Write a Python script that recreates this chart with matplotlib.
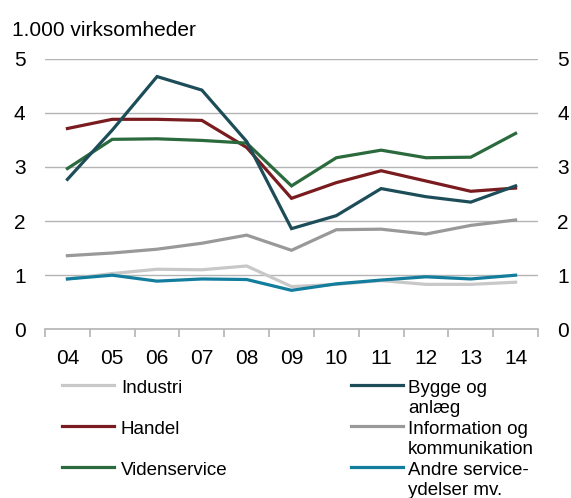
import matplotlib
matplotlib.use("Agg")
import matplotlib.pyplot as plt
from matplotlib.lines import Line2D
import numpy as np

plt.rcParams['font.family'] = ['Liberation Sans', 'DejaVu Sans']

years = ["04", "05", "06", "07", "08", "09", "10", "11", "12", "13", "14"]
industri = [0.93, 1.03, 1.11, 1.10, 1.17, 0.79, 0.83, 0.90, 0.83, 0.83, 0.87]
bygge = [2.77, 3.68, 4.67, 4.42, 3.47, 1.86, 2.10, 2.60, 2.45, 2.35, 2.65]
handel = [3.71, 3.88, 3.88, 3.86, 3.36, 2.42, 2.71, 2.93, 2.74, 2.55, 2.61]
info = [1.36, 1.41, 1.48, 1.59, 1.74, 1.46, 1.84, 1.85, 1.76, 1.92, 2.02]
viden = [2.97, 3.51, 3.52, 3.49, 3.44, 2.65, 3.17, 3.31, 3.17, 3.18, 3.62]
andre = [0.93, 1.00, 0.89, 0.93, 0.92, 0.72, 0.84, 0.91, 0.97, 0.93, 1.00]

labels = ["Industri", "Bygge og\nanlæg", "Handel", "Information og\nkommunikation",
          "Videnservice", "Andre service-\nydelser mv."]
series = [industri, bygge, handel, info, viden, andre]
colors = ["#c8c8c8", "#1d4d58", "#7a1c1f", "#999999", "#2b6a3c", "#137d9e"]
yticks = [0, 1, 2, 3, 4, 5]

W, H = 571, 498
fig = plt.figure(figsize=(W / 100, H / 100), dpi=100)
ax = fig.add_axes([45 / W, 1 - 329.3 / H, (538 - 45) / W, (329.3 - 58.7) / H])

x = np.arange(len(years))
# draw order: back to front
order = [0, 3, 5, 2, 4, 1]
for i in order:
    ax.plot(x, series[i], color=colors[i], lw=2.3, solid_joinstyle='miter', zorder=3 + order.index(i))

ax.set_xlim(-0.5, len(years) - 0.5)
ax.set_ylim(0, 5)
ax.set_yticks(yticks)
ax.set_yticklabels([str(v) for v in yticks])
ax.yaxis.grid(True, color="#b4b4b4", lw=1.0)
ax.set_axisbelow(True)
for s in ["left", "right", "top"]:
    ax.spines[s].set_visible(False)
ax.spines["bottom"].set_color("#b4b4b4")
ax.spines["bottom"].set_linewidth(1.2)

ax.set_xticks(x)
ax.set_xticklabels(years)
ax.set_xticks(np.arange(-0.5, len(years)), minor=True)
ax.tick_params(axis='x', which='major', length=0, pad=14, labelsize=15)
ax.tick_params(axis='x', which='minor', length=6, color="#b4b4b4", width=1.2, direction='out')
ax.tick_params(axis='y', which='both', length=0, labelsize=15, pad=14,
               labelleft=True, labelright=True)

fig.text(12.5 / W, 1 - 36.5 / H, "1.000 virksomheder", fontsize=15, ha='left', va='baseline')

# legend (manual, row-wise)
rows_y = [385, 426, 467]
cols = [(62, 114, 121), (351, 403, 408)]
for k, (lab, col) in enumerate(zip(labels, colors)):
    r, c = k // 2, k % 2
    x0, x1, xt = cols[c]
    yy = 1 - rows_y[r] / H
    fig.add_artist(Line2D([x0 / W, x1 / W], [yy, yy], color=col, lw=2.3,
                          transform=fig.transFigure))
    for j, part in enumerate(lab.split("\n")):
        fig.text(xt / W, 1 - (rows_y[r] + 7.5 + 20.5 * j) / H, part, fontsize=13.5,
                 ha='left', va='baseline')

fig.savefig("out.png", dpi=100)
